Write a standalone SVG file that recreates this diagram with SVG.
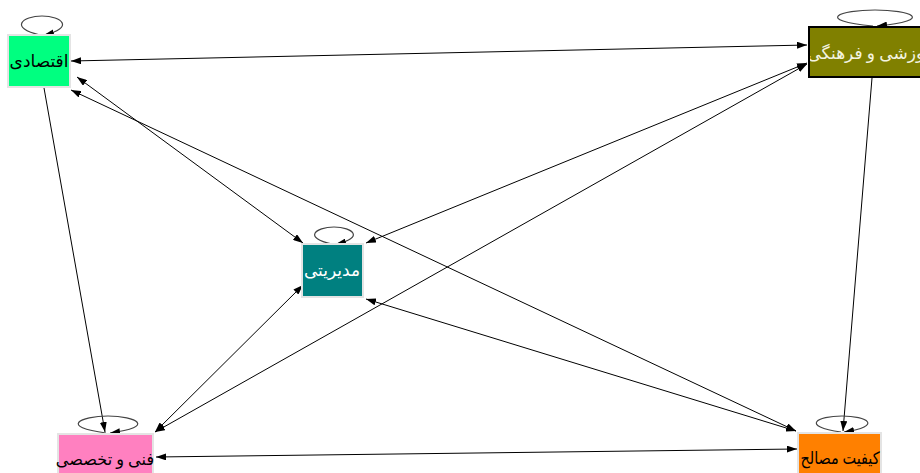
<svg xmlns="http://www.w3.org/2000/svg" width="920" height="473" viewBox="0 0 920 473">
<style>
.box{stroke:#e4e4e4;stroke-width:2}
.lbl{font-family:"Times New Roman","Liberation Serif","DejaVu Sans",serif;font-size:17px;text-anchor:middle;direction:rtl}
.edge{fill:none;stroke:#000;stroke-width:1;marker-end:url(#ah);marker-start:url(#ah)}
.one{fill:none;stroke:#000;stroke-width:1;marker-end:url(#ah)}
.loop{fill:none;stroke:#444;stroke-width:1.2;marker-end:url(#ah)}
</style>
<defs>
<marker id="ah" markerUnits="userSpaceOnUse" markerWidth="10" markerHeight="7" refX="10" refY="3.5" orient="auto-start-reverse">
<path d="M0,0 L10,3.5 L0,7 z" fill="#000"/>
</marker>
<clipPath id="clipOlive"><rect x="810" y="28" width="140" height="48"/></clipPath>
</defs>
<rect width="920" height="473" fill="#fff"/>
<g id="connectors">
<line class="edge" x1="71" y1="61" x2="807" y2="45"/>
<line class="edge" x1="77" y1="77" x2="303" y2="243"/>
<line class="edge" x1="71" y1="90" x2="796" y2="431"/>
<line class="one" x1="44" y1="88" x2="105" y2="432"/>
<line class="edge" x1="807" y1="63" x2="366" y2="243"/>
<line class="edge" x1="807" y1="64" x2="155" y2="432"/>
<line class="edge" x1="303" y1="285" x2="155" y2="432"/>
<line class="edge" x1="366" y1="299" x2="796" y2="431"/>
<line class="edge" x1="156" y1="457" x2="797" y2="449"/>
<line class="one" x1="872" y1="78" x2="843" y2="431"/>
<path class="loop" d="M40,35 C9,28 22,16 42,16 C62,16 75,28 44,35"/>
<path class="loop" d="M873,26 C813,20 840,10 875,10 C910,10 937,20 877,26"/>
<path class="loop" d="M332,244 C303,238 315,227 334,227 C353,227 365,238 336,244"/>
<path class="loop" d="M106,433 C59,427 80,416 108,416 C136,416 157,427 110,433"/>
<path class="loop" d="M841,432 C800,426 817,416 842,416 C867,416 884,426 844,432"/>
</g>
<g id="n-eghtesadi">
<rect class="box" x="8" y="35" width="62" height="52" fill="#00FF80"/>
<text class="lbl" x="39" y="67" fill="#000">اقتصادی</text>
</g>
<g id="n-amoozeshi">
<rect x="809" y="27" width="140" height="50" fill="#808000" stroke="#000" stroke-width="2"/>
<text class="lbl" x="873" y="59" fill="#F4F4E0" clip-path="url(#clipOlive)">آموزشی و فرهنگی</text>
</g>
<g id="n-modiriyati">
<rect class="box" x="302" y="244" width="61" height="53" fill="#008080"/>
<text class="lbl" x="332" y="276" fill="#fff">مدیریتی</text>
</g>
<g id="n-fanni">
<rect class="box" x="58" y="434" width="95" height="45" fill="#FF80C0"/>
<text class="lbl" transform="translate(105 465) scale(0.95 1)" fill="#000">فنی و تخصصی</text>
</g>
<g id="n-keyfiyat">
<rect class="box" x="798" y="433" width="83" height="45" fill="#FF8000"/>
<text class="lbl" transform="translate(840 464) scale(0.85 1)" fill="#000">کیفیت مصالح</text>
</g>
</svg>
